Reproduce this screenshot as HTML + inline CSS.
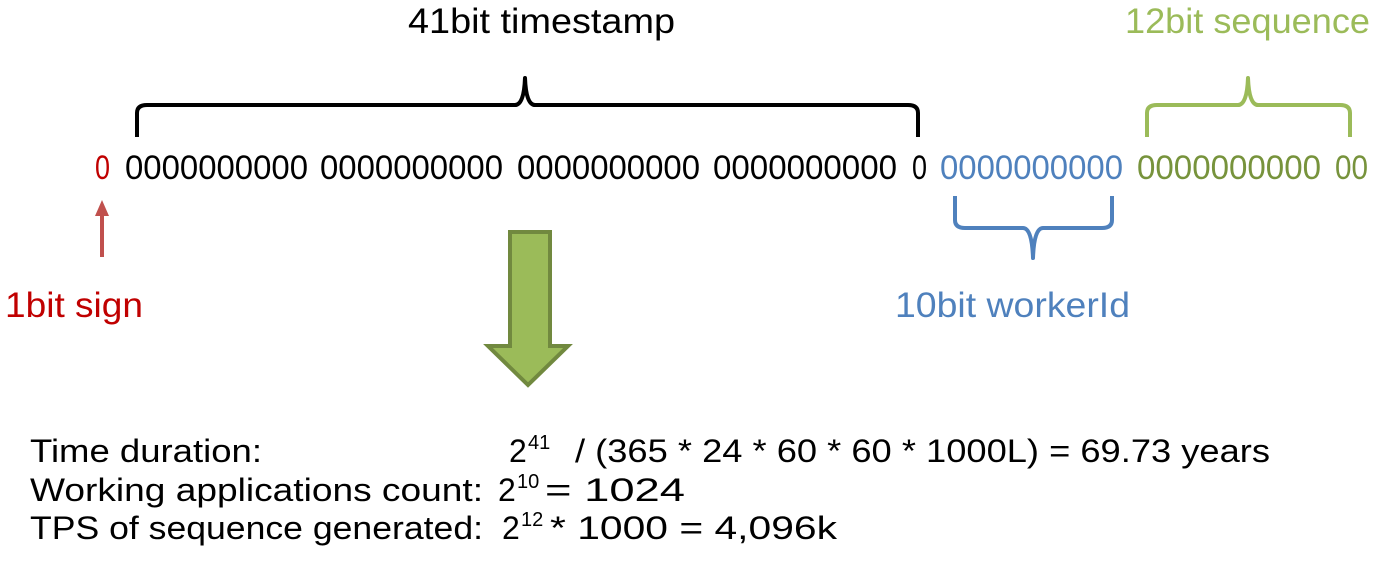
<!DOCTYPE html>
<html><head><style>body{margin:0;background:#fff}</style></head><body>
<svg width="1378" height="560" xmlns="http://www.w3.org/2000/svg" font-family="Liberation Sans, sans-serif">
<g font-size="34">
<text x="95" y="179" fill="#c00000" textLength="15" lengthAdjust="spacingAndGlyphs">0</text>
<text x="125" y="179" fill="#000" textLength="183" lengthAdjust="spacingAndGlyphs">0000000000</text>
<text x="320" y="179" fill="#000" textLength="183" lengthAdjust="spacingAndGlyphs">0000000000</text>
<text x="517" y="179" fill="#000" textLength="183" lengthAdjust="spacingAndGlyphs">0000000000</text>
<text x="713" y="179" fill="#000" textLength="184" lengthAdjust="spacingAndGlyphs">0000000000</text>
<text x="912" y="179" fill="#000" textLength="15" lengthAdjust="spacingAndGlyphs">0</text>
<text x="940" y="179" fill="#4f81bd" textLength="183" lengthAdjust="spacingAndGlyphs">0000000000</text>
<text x="1137" y="179" fill="#77933c" textLength="184" lengthAdjust="spacingAndGlyphs">0000000000</text>
<text x="1335" y="179" fill="#77933c" textLength="33" lengthAdjust="spacingAndGlyphs">00</text>
</g>
<g font-size="35">
<text x="408" y="33" fill="#000" textLength="267" lengthAdjust="spacingAndGlyphs">41bit timestamp</text>
<text x="1125" y="33" fill="#9bbb59" textLength="245" lengthAdjust="spacingAndGlyphs">12bit sequence</text>
<text x="5" y="317" fill="#c00000" textLength="138" lengthAdjust="spacingAndGlyphs">1bit sign</text>
<text x="895" y="317" fill="#4f81bd" textLength="235" lengthAdjust="spacingAndGlyphs">10bit workerId</text>
</g>
<g fill="none" stroke-width="4" stroke-linejoin="round">
<path d="M137 137 V113 Q137 105 147 105 H515 Q524 105 525 78 Q526 105 535 105 H908 Q918 105 918 113 V137" stroke="#000"/>
<path d="M1147 137 V113 Q1147 105 1157 105 H1238 Q1247 105 1248 78 Q1249 105 1258 105 H1340 Q1350 105 1350 113 V137" stroke="#9bbb59"/>
<path d="M955 196 V220 Q955 228 965 228 H1023 Q1032 228 1033 258 Q1034 228 1043 228 H1102 Q1112 228 1112 220 V196" stroke="#4f81bd"/>
</g>
<line x1="102" y1="257" x2="102" y2="215" stroke="#c0504d" stroke-width="4"/>
<polygon points="95,216 109,216 102,200" fill="#c0504d"/>
<polygon points="510,232 550,232 550,346 568,346 528,385 488,346 510,346" fill="#9bbb59" stroke="#71893f" stroke-width="4"/>
<g font-size="32" fill="#000">
<text x="30" y="462" textLength="232" lengthAdjust="spacingAndGlyphs">Time duration:</text>
<text x="30" y="501" textLength="453" lengthAdjust="spacingAndGlyphs">Working applications count:</text>
<text x="30" y="539" textLength="453" lengthAdjust="spacingAndGlyphs">TPS of sequence generated:</text>
<text x="509" y="462">2</text><text x="528" y="449" font-size="20">41</text>
<text x="575" y="462" textLength="695" lengthAdjust="spacingAndGlyphs">/ (365 * 24 * 60 * 60 * 1000L) = 69.73 years</text>
<text x="498" y="501">2</text><text x="517" y="488" font-size="20">10</text>
<text x="545" y="501" textLength="140" lengthAdjust="spacingAndGlyphs">= 1024</text>
<text x="502" y="539">2</text><text x="521" y="526" font-size="20">12</text>
<text x="550" y="539" textLength="287" lengthAdjust="spacingAndGlyphs">* 1000  = 4,096k</text>
</g>
</svg>
</body></html>
